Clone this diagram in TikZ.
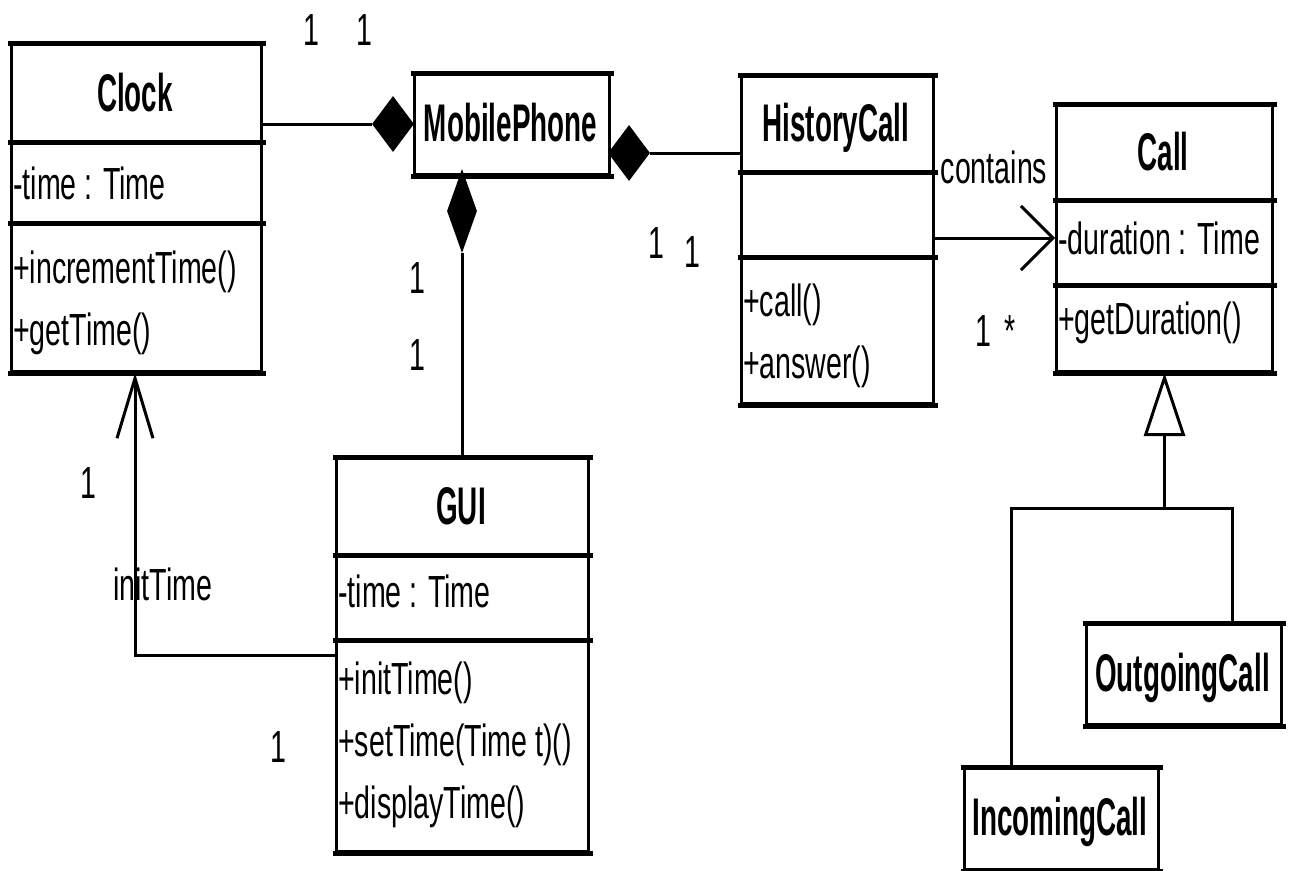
\documentclass[tikz,border=0pt]{standalone}
\usepackage{fontspec}
\setmainfont{Liberation Sans}[FakeStretch=0.635]
\newfontfamily\titlefont{Liberation Sans}[FakeStretch=0.525]
\usetikzlibrary{arrows.meta,calc,shapes.geometric}
\begin{document}
\begin{tikzpicture}[x=1pt,y=-1pt,
  cls/.style={draw=black, line width=3pt, fill=white, inner sep=0pt, anchor=north west},
  hl/.style={line width=5pt, line cap=rect},
  conn/.style={line width=3pt},
  ttl/.style={font=\titlefont\bfseries\fontsize{53}{60}\selectfont, inner sep=0pt, anchor=base},
  txt/.style={font=\fontsize{45}{52}\selectfont, inner sep=0pt, anchor=base west},
  lbl/.style={font=\fontsize{45}{52}\selectfont, inner sep=0pt, anchor=base},
  comp/.style={diamond, fill=black, draw=none, inner sep=0pt}
]
\useasboundingbox[fill=white] (0,0) rectangle (1298,870);

% ---------- Clock ----------
\node[cls, minimum width=250pt, minimum height=327pt] (clock) at (10,43) {};
\draw[hl] (clock.north west) -- (clock.north east);
\draw[hl] (clock.south west) -- (clock.south east);
\draw[hl] ($(clock.north west)+(0,99)$) -- ($(clock.north east)+(0,99)$);
\draw[hl] ($(clock.north west)+(0,180)$) -- ($(clock.north east)+(0,180)$);
\node[ttl] (clockT) at (135,111) {Clock};
\node[txt] (clockA) at (13,199) {-time : Time};
\node[txt] (clockM1) at (13,283) {+incrementTime()};
\node[txt] (clockM2) at (13,345) {+getTime()};

% ---------- MobilePhone ----------
\node[cls, minimum width=195pt, minimum height=100pt] (mp) at (413,73) {};
\draw[hl] (mp.north west) -- (mp.north east);
\draw[hl] (mp.south west) -- (mp.south east);
\node[ttl] (mpT) at (510.5,141) {MobilePhone};

% ---------- HistoryCall ----------
\node[cls, minimum width=192pt, minimum height=327pt] (hc) at (740,75) {};
\draw[hl] (hc.north west) -- (hc.north east);
\draw[hl] (hc.south west) -- (hc.south east);
\draw[hl] ($(hc.north west)+(0,97)$) -- ($(hc.north east)+(0,97)$);
\draw[hl] ($(hc.north west)+(0,182)$) -- ($(hc.north east)+(0,182)$);
\node[ttl] (hcT) at (836,141) {HistoryCall};
\node[txt] (hcM1) at (743,316) {+call()};
\node[txt] (hcM2) at (743,378) {+answer()};

% ---------- Call ----------
\node[cls, minimum width=216pt, minimum height=266pt] (call) at (1055,104) {};
\draw[hl] (call.north west) -- (call.north east);
\draw[hl] (call.south west) -- (call.south east);
\draw[hl] ($(call.north west)+(0,96)$) -- ($(call.north east)+(0,96)$);
\draw[hl] ($(call.north west)+(0,181)$) -- ($(call.north east)+(0,181)$);
\node[ttl] (callT) at (1163,170) {Call};
\node[txt] (callA) at (1058,254) {-duration : Time};
\node[txt] (callM) at (1058,334) {+getDuration()};

% ---------- GUI ----------
\node[cls, minimum width=252pt, minimum height=393pt] (gui) at (335,457) {};
\draw[hl] (gui.north west) -- (gui.north east);
\draw[hl] (gui.south west) -- (gui.south east);
\draw[hl] ($(gui.north west)+(0,98)$) -- ($(gui.north east)+(0,98)$);
\draw[hl] ($(gui.north west)+(0,183)$) -- ($(gui.north east)+(0,183)$);
\node[ttl] (guiT) at (461,524) {GUI};
\node[txt] (guiA) at (338,607) {-time : Time};
\node[txt] (guiM1) at (338,694) {+initTime()};
\node[txt] (guiM2) at (338,756) {+setTime(Time t)()};
\node[txt] (guiM3) at (338,818) {+displayTime()};

% ---------- OutgoingCall ----------
\node[cls, minimum width=195pt, minimum height=100pt] (out) at (1085,623) {};
\draw[hl] (out.north west) -- (out.north east);
\draw[hl] (out.south west) -- (out.south east);
\node[ttl] (outT) at (1182.5,691) {OutgoingCall};

% ---------- IncomingCall ----------
\node[cls, minimum width=194pt, minimum height=101pt] (inc) at (963,767) {};
\draw[hl] (inc.north west) -- (inc.north east);
\draw[hl] (inc.south west) -- (inc.south east);
\node[ttl] (incTt) at (1060,835) {IncomingCall};

% ---------- composition diamonds ----------
\node[comp, minimum width=42pt, minimum height=56pt] (dL) at (393,124) {};
\node[comp, minimum width=42pt, minimum height=56pt] (dR) at (629,153) {};
\node[comp, minimum width=30pt, minimum height=84pt] (dB) at (462,211) {};

% ---------- connectors ----------
\draw[conn] (clock.east |- dL.west) -- (dL.west);
\draw[conn] (dR.east) -- (hc.west |- dR.east);
\draw[conn] (dB.south) -- (dB.south |- gui.north);

\coordinate (guiOut) at ($(gui.north west)+(0,198)$);
\coordinate (clkIn) at ($(clock.south west)+(125,0)$);
\draw[conn, -{Straight Barb[length=60pt,width=36pt]}] (guiOut) -| (clkIn);

\coordinate (callIn) at ($(call.north west)+(0,134)$);
\draw[conn, -{Straight Barb[length=32pt,width=64pt]}] (hc.east |- callIn) -- (callIn);

\coordinate (incTop) at ($(inc.north west)+(48,0)$);
\coordinate (outTop) at ($(out.north west)+(147,0)$);
\coordinate (gj) at ($(call.south)+(0,135)$);
\draw[conn] (incTop) |- (gj) -| (outTop);
\draw[conn, -{Triangle[open, length=63pt, width=41pt]}] (gj) -- (call.south);

% ---------- labels ----------
\node[lbl] (m1) at (311,45) {1};
\node[lbl] (m2) at (364,45) {1};
\node[lbl] (m3) at (417,293) {1};
\node[lbl] (m4) at (417,370) {1};
\node[lbl] (m5) at (656,258) {1};
\node[lbl] (m6) at (692,267) {1};
\node[lbl] (m7) at (983,346) {1};
\node[lbl] (m8) at (1010,346) {*};
\node[lbl] (lc) at (994,183) {contains};
\node[txt] (lit) at (113,600) {initTime};
\node[lbl] (m9) at (88,498) {1};
\node[lbl] (m10) at (278,762) {1};
\end{tikzpicture}
\end{document}
